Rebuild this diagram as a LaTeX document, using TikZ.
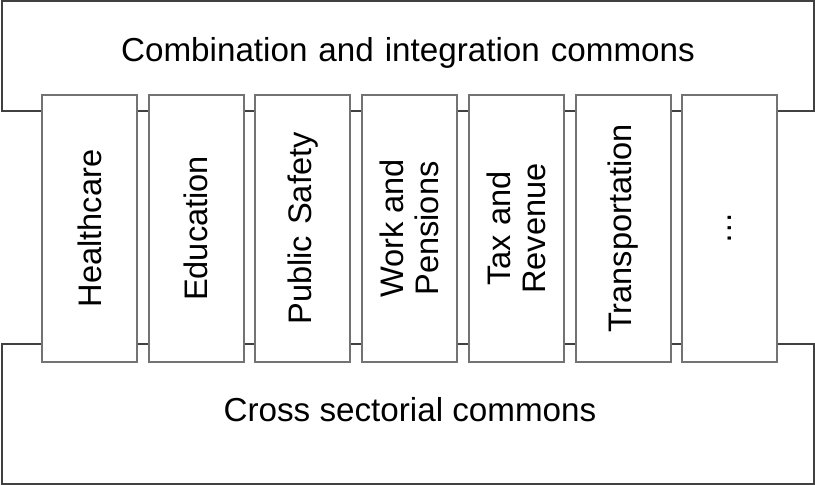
\documentclass[tikz,border=0pt]{standalone}
\usepackage{fontspec}
\setmainfont{Liberation Sans}
\usepackage{tikz}

\newcommand{\wsp}{\hspace{5.5pt}}

\tikzset{
  frame/.style={draw=black!75,line width=1pt},
  sector/.style={draw=black!55,line width=1pt,fill=white,rotate=90,
    minimum width=133.5pt,minimum height=47.5pt,inner sep=0pt,align=center,
    font=\fontsize{16.3}{17.5}\selectfont},
  lbl/.style={font=\fontsize{16.6}{18}\selectfont}
}

\begin{document}
\begin{tikzpicture}[x=0.5pt,y=-0.5pt]
\useasboundingbox (0,0) rectangle (815,485);
\draw[frame] (2,1) rectangle (814,111);
\draw[frame] (2,344) rectangle (814,484);
\node[lbl] (comb) at (408,53) {Combination\wsp and\wsp integration\wsp commons};
\node[lbl] (cross) at (410,410) {Cross sectorial commons};
\node[sector] (health) at (89.5,228.5) {Healthcare};
\node[sector] (edu) at (196.2,228.5) {Education};
\node[sector] (safety) at (302.9,228.5) {Public\wsp Safety};
\node[sector] (work) at (409.6,228.5) {Work and\\Pensions};
\node[sector] (tax) at (516.3,228.5) {Tax and\\Revenue};
\node[sector] (transp) at (623,228.5) {Transportation};
\node[sector] (more) at (729.7,228.5) {\ldots};
\end{tikzpicture}
\end{document}
